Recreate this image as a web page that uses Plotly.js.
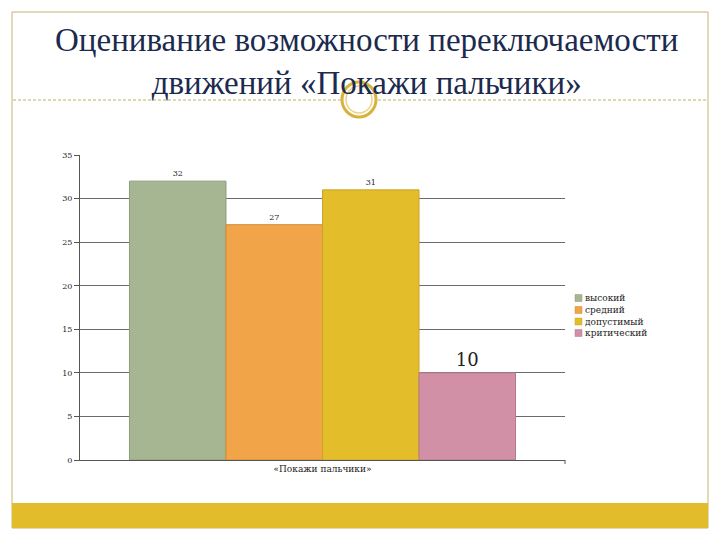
<!DOCTYPE html>
<html><head><meta charset="utf-8">
<script src="https://cdn.plot.ly/plotly-3.0.1.min.js"></script>
<style>html,body{margin:0;padding:0;background:#fff}#chart{width:720px;height:540px}</style>
</head><body><div id="chart"></div>
<script>
const category = ["«Покажи пальчики»"];
const seriesNames = ["высокий", "средний", "допустимый", "критический"];
const seriesValues = [32, 27, 31, 10];
const seriesColors = ["#a7b692", "#f1a448", "#e4bd2b", "#d190a6"];
const lineColors = ["#8f9d7c", "#d18a38", "#c9a424", "#b37a8e"];
const labelSizes = [8, 8, 8, 18];
const yTicks = [0, 5, 10, 15, 20, 25, 30, 35];

const SERIF = 'DejaVu Serif';
const TSERIF = 'Liberation Serif';
const L = 80, R = 565, T = 155, B = 460;
const W = R - L, H = B - T;
const px = x => (x - L) / W;
const py = y => (B - y) / H;

const traces = seriesNames.map((n, i) => ({
  type: 'bar', name: n, x: category, y: [seriesValues[i]],
  marker: {color: seriesColors[i], line: {color: lineColors[i], width: 1}},
  text: [String(seriesValues[i])], textposition: 'outside',
  textfont: {family: SERIF, size: labelSizes[i], color: '#222'},
  cliponaxis: false, hoverinfo: 'none', showlegend: false
}));

const gold = '#c9b46a';
const shapes = [
  {type: 'rect', xref: 'paper', yref: 'paper', x0: px(12), x1: px(708), y0: py(528), y1: py(12),
   line: {color: gold, width: 1}, fillcolor: 'rgba(0,0,0,0)', layer: 'below'},
  {type: 'line', xref: 'paper', yref: 'paper', x0: px(13), x1: px(707), y0: py(100), y1: py(100),
   line: {color: '#bdb266', width: 1, dash: '3px,2px'}},
  {type: 'rect', xref: 'paper', yref: 'paper', x0: px(12), x1: px(708), y0: py(528), y1: py(503),
   line: {width: 0}, fillcolor: '#e3bc2c'},
  {type: 'circle', xref: 'paper', yref: 'paper', x0: px(342), x1: px(376), y0: py(117), y1: py(82),
   line: {color: '#d8b23e', width: 3}, fillcolor: '#ffffff'},
  {type: 'circle', xref: 'paper', yref: 'paper', x0: px(346), x1: px(372), y0: py(113), y1: py(86),
   line: {color: '#ead385', width: 1.5}, fillcolor: 'rgba(0,0,0,0)'},
  {type: 'line', xref: 'paper', yref: 'paper', x0: 1, x1: 1, y0: 0, y1: py(464),
   line: {color: '#555', width: 1}}
];
const annotations = [
  {text: 'Оценивание возможности переключаемости<br>движений «Покажи пальчики»',
   xref: 'paper', yref: 'paper', x: px(366), y: py(61), xanchor: 'center', yanchor: 'middle',
   showarrow: false, align: 'center',
   font: {family: TSERIF, size: 33, color: '#1c2a4e'}}
];
const legY = [298, 310, 321.5, 333];
seriesNames.forEach((n, i) => {
  shapes.push({type: 'rect', xref: 'paper', yref: 'paper',
    x0: px(575), x1: px(582), y0: py(legY[i] + 3.5), y1: py(legY[i] - 3.5),
    fillcolor: seriesColors[i], line: {color: lineColors[i], width: 0.5}});
  annotations.push({text: n, xref: 'paper', yref: 'paper', x: px(583), y: py(legY[i]),
    xanchor: 'left', yanchor: 'middle', showarrow: false,
    font: {family: SERIF, size: 9, color: '#222'}});
});

const layout = {
  width: 720, height: 540,
  margin: {l: L, r: 720 - R, t: T, b: 540 - B, pad: 0},
  paper_bgcolor: '#fff', plot_bgcolor: '#fff',
  barmode: 'group', bargap: 0.204, bargroupgap: 0,
  showlegend: false,
  xaxis: {type: 'category', showline: true, linecolor: '#555', linewidth: 1,
    ticks: '', tickfont: {family: SERIF, size: 9, color: '#222'}, fixedrange: true},
  yaxis: {range: [0, 35], tickvals: yTicks, ticktext: yTicks.map(String),
    showgrid: true, gridcolor: '#6b6b6b', gridwidth: 1,
    showline: true, linecolor: '#555', linewidth: 1, zeroline: false,
    ticks: 'outside', ticklen: 5, tickcolor: '#555',
    tickfont: {family: SERIF, size: 8, color: '#222'}, fixedrange: true},
  annotations: annotations,
  shapes: shapes
};
Plotly.newPlot('chart', traces, layout, {displayModeBar: false, staticPlot: true});
</script></body></html>
